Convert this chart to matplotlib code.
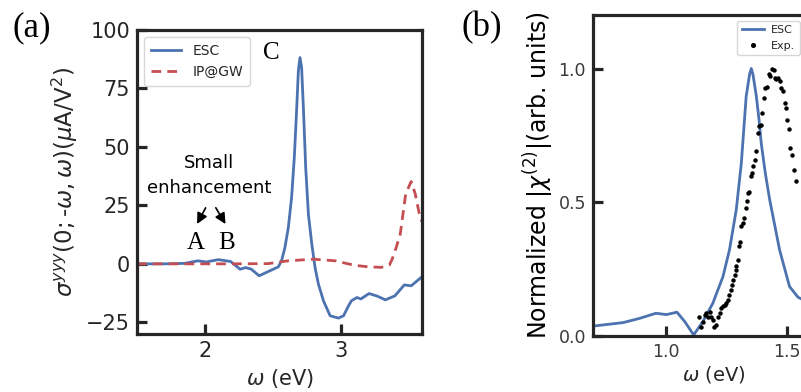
import matplotlib
matplotlib.use("Agg")
import matplotlib.pyplot as plt

# ---- panel (a): sigma^yyy spectra
w_esc = [1.50, 1.70, 1.85, 1.95, 2.01, 2.10, 2.19, 2.26, 2.30, 2.34, 2.40, 2.467, 2.541,
         2.565, 2.590, 2.615, 2.639, 2.659, 2.677, 2.689, 2.701, 2.713, 2.726, 2.743,
         2.763, 2.788, 2.812, 2.837, 2.874, 2.923, 2.985, 3.022, 3.059, 3.08, 3.12,
         3.15, 3.21, 3.27, 3.33, 3.40, 3.47, 3.52, 3.58, 3.60]
s_esc = [0.0, 0.0, 0.2, 1.3, 0.8, 1.8, 1.0, -2.3, -1.6, -2.2, -5.1, -3.3, -1.3,
         1.3, 7.0, 15.5, 28.3, 45.4, 66.8, 82.5, 88.2, 83.9, 66.8, 41.2,
         21.2, 8.4, -1.6, -8.7, -15.8, -22.2, -23.2, -22.2, -17.9, -15.8, -14.4,
         -15.0, -12.7, -13.8, -15.4, -13.7, -9.0, -9.4, -6.5, -5.5]

w_ip = [1.50, 1.80, 2.20, 2.467, 2.615, 2.80, 2.96, 3.10, 3.207, 3.30, 3.36, 3.38, 3.41,
        3.44, 3.48, 3.52, 3.55, 3.58, 3.60]
s_ip = [0.0, 0.0, 0.0, 0.1, 1.3, 2.0, 1.3, -0.6, -1.3, -1.5, -0.5, 2.0, 7.0,
        12.8, 30.0, 35.2, 30.0, 21.4, 18.0]

# ---- panel (b): normalized |chi(2)|
w_b = [0.70, 0.824, 0.893, 0.96, 1.003, 1.047, 1.079, 1.116, 1.154, 1.195, 1.237, 1.264,
       1.292, 1.313, 1.322, 1.333, 1.347, 1.354, 1.361, 1.375, 1.386, 1.395, 1.412, 1.43,
       1.471, 1.512, 1.547, 1.58]
chi_b = [0.037, 0.05, 0.066, 0.085, 0.08, 0.089, 0.054, 0.004, 0.054, 0.122, 0.222, 0.322,
         0.472, 0.647, 0.759, 0.896, 0.978, 1.0, 0.978, 0.896, 0.809, 0.722, 0.609, 0.51,
         0.322, 0.185, 0.145, 0.13]

w_exp = [1.140, 1.147, 1.154, 1.161, 1.168, 1.175, 1.182, 1.189, 1.196, 1.202, 1.209, 1.216,
         1.223, 1.230, 1.237, 1.244, 1.251, 1.258, 1.264, 1.271, 1.275, 1.278, 1.285, 1.289,
         1.292, 1.299, 1.302, 1.306, 1.313, 1.320, 1.324, 1.331, 1.336, 1.340, 1.344, 1.351,
         1.357, 1.361, 1.368, 1.375, 1.381, 1.388, 1.395, 1.399, 1.405, 1.412, 1.419, 1.426,
         1.433, 1.439, 1.446, 1.452, 1.457, 1.464, 1.471, 1.478, 1.485, 1.492, 1.496, 1.503,
         1.510, 1.515, 1.522, 1.530, 1.539]
chi_exp = [0.072, 0.035, 0.054, 0.079, 0.085, 0.072, 0.091, 0.072, 0.060, 0.035, 0.041, 0.072,
           0.085, 0.104, 0.112, 0.116, 0.122, 0.135, 0.154, 0.172, 0.191, 0.210, 0.228, 0.247,
           0.260, 0.285, 0.335, 0.353, 0.410, 0.422, 0.441, 0.478, 0.503, 0.534, 0.537, 0.597,
           0.609, 0.634, 0.659, 0.690, 0.759, 0.784, 0.790, 0.834, 0.890, 0.928, 0.930, 0.978,
           0.971, 1.000, 0.994, 0.965, 0.961, 0.965, 0.952, 0.928, 0.915, 0.872, 0.853, 0.809,
           0.775, 0.703, 0.678, 0.619, 0.578]

blue = '#4c72b0'
red = '#c44e52'
dark = '#262626'
serif = ['Liberation Serif', 'DejaVu Serif']

fig = plt.figure(figsize=(8.01, 3.92), dpi=100)
W, H = 801, 392


def px_axes(l, t, r, b):
    # axes placed by pixel box (left, top, right, bottom)
    return fig.add_axes([l / W, (H - b) / H, (r - l) / W, (b - t) / H])


def style(ax, tick_size, tick_color):
    for s in ax.spines.values():
        s.set_linewidth(2.3)
        s.set_color(dark)
    ax.tick_params(direction='in', length=7, width=2.3, color=dark,
                   labelsize=tick_size, labelcolor=tick_color, pad=5)


# panel (a)
ax1 = px_axes(137, 30, 422, 334)
ax1.plot(w_esc, s_esc, color=blue, lw=2, label='ESC', solid_joinstyle='round')
ax1.plot(w_ip, s_ip, color=red, lw=2, ls=(0, (3.5, 2.2)), label='IP@GW')
ax1.set_xlim(1.5, 3.6)
ax1.set_ylim(-30, 100)
ax1.set_xticks([2, 3])
ax1.set_yticks([-25, 0, 25, 50, 75, 100])
style(ax1, 15, dark)
ax1.set_xlabel(r'$\omega$ (eV)', fontsize=15, color=dark, labelpad=4)
ax1.set_ylabel(r'$\sigma^{yyy}(0;$-$\omega,\omega)(\mu$A/V$^2)$', fontsize=16.5, color=dark, labelpad=4)
leg1 = ax1.legend(loc='upper left', fontsize=10, frameon=True, fancybox=True,
                  handlelength=2.2, borderpad=0.5, labelspacing=0.5)
leg1.get_frame().set_edgecolor('#cccccc')
for t in leg1.get_texts():
    t.set_color(dark)

ax1.text(2.03, 43, 'Small', ha='center', va='center', fontsize=13)
ax1.text(2.03, 32.5, 'enhancement', ha='center', va='center', fontsize=13)
ax1.annotate('', xy=(1.933, 16.0), xytext=(2.015, 25.0),
             arrowprops=dict(arrowstyle='-|>', color='black', lw=1.2, mutation_scale=16))
ax1.annotate('', xy=(2.163, 16.0), xytext=(2.07, 25.0),
             arrowprops=dict(arrowstyle='-|>', color='black', lw=1.2, mutation_scale=16))
ax1.text(1.93, 9, 'A', ha='center', va='center', fontsize=18, family=serif)
ax1.text(2.16, 9, 'B', ha='center', va='center', fontsize=18, family=serif)
ax1.text(2.49, 90, 'C', ha='center', va='center', fontsize=18, family=serif)

# panel (b)
ax2 = px_axes(593, 15, 835, 336)
ax2.plot(w_b, chi_b, color=blue, lw=2, label='ESC', solid_joinstyle='round')
ax2.plot(w_exp, chi_exp, ls='none', marker='o', ms=2.2, color='black', label='Exp.')
ax2.set_xlim(0.7, 1.7)
ax2.set_ylim(0, 1.2)
ax2.set_xticks([1.0, 1.5])
ax2.set_yticks([0.0, 0.5, 1.0])
style(ax2, 12.5, '#3a3a3a')
ax2.set_xlabel(r'$\omega$ (eV)', fontsize=14, color=dark, labelpad=2)
ax2.set_ylabel(r'Normalized |$\chi^{(2)}$|(arb. units)', fontsize=17, color='black', labelpad=2)
leg2 = ax2.legend(loc='upper left', bbox_to_anchor=(0.597, 0.982), borderaxespad=0,
                  fontsize=8, frameon=True, fancybox=True, handlelength=2.0,
                  handletextpad=0.6, markerscale=1.2)
leg2.get_frame().set_edgecolor('#cccccc')
for t in leg2.get_texts():
    t.set_color(dark)

fig.text(32 / W, 1 - 28 / H, '(a)', ha='center', va='center', fontsize=25, family=serif)
fig.text(482 / W, 1 - 28 / H, '(b)', ha='center', va='center', fontsize=25, family=serif)

fig.savefig('out.png', dpi=100)
